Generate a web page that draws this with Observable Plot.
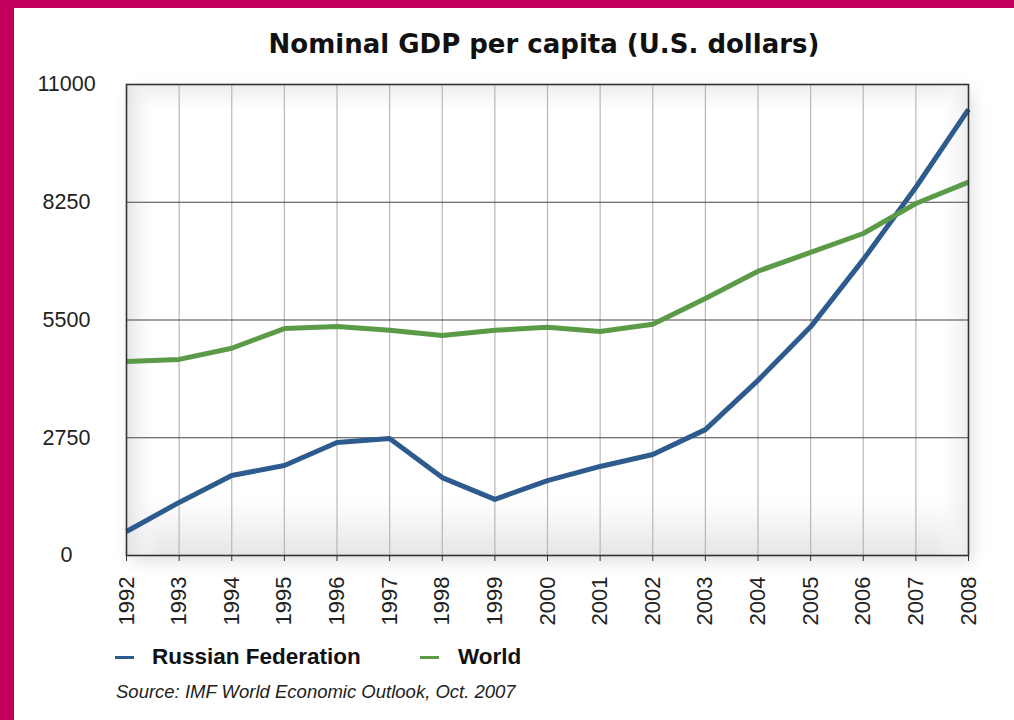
<!DOCTYPE html>
<html>
<head>
<meta charset="utf-8">
<script src="https://cdn.jsdelivr.net/npm/d3@7"></script>
<script src="https://cdn.jsdelivr.net/npm/@observablehq/plot@0.6"></script>
<style>
  html, body { margin: 0; padding: 0; }
  body { width: 1014px; height: 720px; background: #c0005a; position: relative; overflow: hidden; }
  #panel { position: absolute; left: 14px; top: 8px; right: 0; bottom: 0; background: #fff; }
  #title { position: absolute; left: 544px; top: 31px; transform: translateX(-50%); white-space: nowrap;
           font-family: "DejaVu Sans", Verdana, sans-serif; font-weight: bold; font-size: 26px; line-height: 1; color: #111; }
  #chart { position: absolute; left: 0; top: 70px; }
  #legend { position: absolute; left: 115px; top: 644px; font-family: "Liberation Sans", Arial, sans-serif;
            font-weight: bold; font-size: 22.5px; line-height: 26px; color: #111; white-space: nowrap; }
  #legend .item { position: absolute; top: 0; }
  #legend .sw { position: absolute; top: 12px; width: 19px; height: 3px; }
  #source { position: absolute; left: 116px; top: 681px; font-family: "Liberation Sans", Arial, sans-serif;
            font-style: italic; font-size: 18.5px; color: #222; white-space: nowrap; }
</style>
</head>
<body>
<div id="panel"></div>
<div id="title"></div>
<div id="chart"></div>
<div id="legend"></div>
<div id="source"></div>
<script>
const titleText = "Nominal GDP per capita (U.S. dollars)";
const sourceText = "Source: IMF World Economic Outlook, Oct. 2007";
const years = [1992, 1993, 1994, 1995, 1996, 1997, 1998, 1999, 2000, 2001, 2002, 2003, 2004, 2005, 2006, 2007, 2008];
const russia = [560, 1240, 1870, 2100, 2640, 2730, 1820, 1310, 1750, 2080, 2360, 2940, 4090, 5340, 6910, 8600, 10420];
const world = [4530, 4580, 4840, 5300, 5350, 5260, 5140, 5260, 5330, 5230, 5400, 6000, 6640, 7080, 7520, 8220, 8720];
const yTicks = [0, 2750, 5500, 8250, 11000];
const seriesNames = ["Russian Federation", "World"];
const seriesColors = ["#2e5b8e", "#5b9b48"];

const rows = [];
years.forEach((yr, i) => {
  rows.push({year: yr, value: russia[i], series: seriesNames[0]});
  rows.push({year: yr, value: world[i], series: seriesNames[1]});
});

document.getElementById("title").textContent = titleText;
document.getElementById("source").textContent = sourceText;

const chart = Plot.plot({
  width: 1014,
  height: 565,
  marginLeft: 126,
  marginRight: 46,
  marginTop: 14,
  marginBottom: 80,
  style: { background: "transparent", fontFamily: "Liberation Sans, Arial, sans-serif", fontSize: "21px", color: "#222" },
  x: { domain: [years[0], years[years.length - 1]], ticks: years, tickFormat: d => String(d) },
  y: { domain: [yTicks[0], yTicks[yTicks.length - 1]], ticks: yTicks, tickFormat: d => String(d) },
  color: { domain: seriesNames, range: seriesColors },
  marks: [
    Plot.frame({ fill: "url(#bgv)", stroke: "none" }),
    Plot.frame({ fill: "url(#bgh)", stroke: "none" }),
    Plot.ruleX(years.slice(1, -1), { x: d => d, stroke: "#b8b8b8", strokeWidth: 1.2 }),
    Plot.ruleY(yTicks.slice(1, -1), { y: d => d, stroke: "#444", strokeWidth: 1.2 }),
    Plot.axisX({ ticks: years, tickFormat: d => String(d), tickRotate: -90, tickSize: 6, tickPadding: 15, stroke: "#333", label: null, fontSize: 22 }),
    Plot.axisY({ ticks: yTicks, tickFormat: d => String(d), tickSize: 0, tickPadding: 60, textAnchor: "middle", label: null, fontSize: 21.5 }),
    Plot.line(rows, { x: "year", y: "value", z: "series", stroke: "series", strokeWidth: 5, strokeLinejoin: "round", strokeLinecap: "butt" }),
    Plot.frame({ stroke: "#333", strokeWidth: 1.6 })
  ]
});

const defs = d3.select(chart).insert("defs", ":first-child");
const gv = defs.append("linearGradient").attr("id", "bgv").attr("x1", 0).attr("y1", 0).attr("x2", 0).attr("y2", 1);
gv.append("stop").attr("offset", "0%").attr("stop-color", "#ececec");
gv.append("stop").attr("offset", "5%").attr("stop-color", "#ffffff");
gv.append("stop").attr("offset", "88%").attr("stop-color", "#ffffff");
gv.append("stop").attr("offset", "100%").attr("stop-color", "#e6e6e6");
const gh = defs.append("linearGradient").attr("id", "bgh").attr("x1", 0).attr("y1", 0).attr("x2", 1).attr("y2", 0);
gh.append("stop").attr("offset", "0%").attr("stop-color", "#e4e4e4").attr("stop-opacity", 1);
gh.append("stop").attr("offset", "4%").attr("stop-color", "#ffffff").attr("stop-opacity", 0);
gh.append("stop").attr("offset", "96%").attr("stop-color", "#ffffff").attr("stop-opacity", 0);
gh.append("stop").attr("offset", "100%").attr("stop-color", "#ececec").attr("stop-opacity", 1);
const sh = defs.append("filter").attr("id", "shadow").attr("x", "-5%").attr("y", "-5%").attr("width", "110%").attr("height", "115%");
sh.append("feDropShadow").attr("dx", 4).attr("dy", 6).attr("stdDeviation", 8).attr("flood-color", "#000").attr("flood-opacity", 0.12);
d3.select(chart).select('[aria-label="frame"]').attr("filter", "url(#shadow)");
d3.select(chart).selectAll('g[aria-label="x-axis tick label"] text, g[aria-label="y-axis tick label"] text').attr("fill", "#222");

document.getElementById("chart").appendChild(chart);

const legend = document.getElementById("legend");
const legendPos = [[0, 37], [305, 343]];
seriesNames.forEach((name, i) => {
  const sw = document.createElement("div");
  sw.className = "sw";
  sw.style.left = legendPos[i][0] + "px";
  sw.style.background = seriesColors[i];
  legend.appendChild(sw);
  const t = document.createElement("div");
  t.className = "item";
  t.style.left = legendPos[i][1] + "px";
  t.textContent = name;
  legend.appendChild(t);
});
</script>
</body>
</html>
